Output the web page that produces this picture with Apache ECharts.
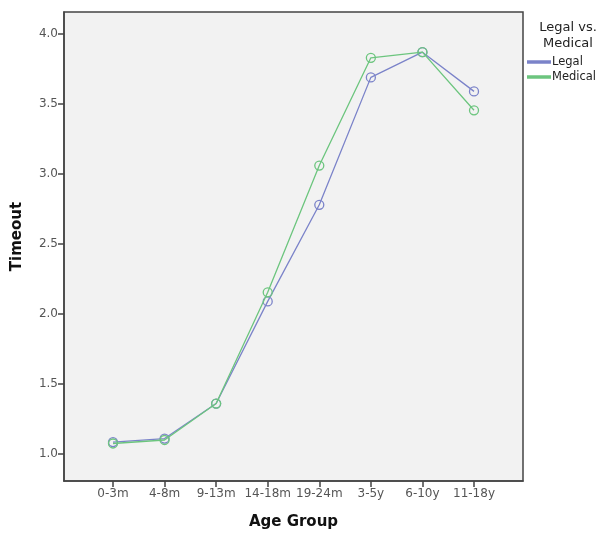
<!DOCTYPE html>
<html><head><meta charset="utf-8">
<script src="https://cdn.jsdelivr.net/npm/echarts@6/dist/echarts.min.js"></script>
<style>html,body{margin:0;padding:0;background:#fff}#c{width:604px;height:541px}</style>
</head><body><div id="c"></div>
<script>
const categories = ['0-3m','4-8m','9-13m','14-18m','19-24m','3-5y','6-10y','11-18y'];
const legalValues = [1.085, 1.11, 1.36, 2.09, 2.78, 3.69, 3.87, 3.59];
const medicalValues = [1.075, 1.10, 1.36, 2.155, 3.06, 3.83, 3.87, 3.455];
const yTicks = [1.0, 1.5, 2.0, 2.5, 3.0, 3.5, 4.0];

const chart = echarts.init(document.getElementById('c'));
const idx = categories.map((_, i) => i);
const toPts = arr => arr.map((v, i) => [i, v]);
const font = 'DejaVu Sans';
chart.setOption({
  animation: false,
  backgroundColor: '#ffffff',
  title: {
    text: 'Legal vs.\nMedical', left: 563, top: 15, textAlign: 'center',
    textStyle: {fontFamily: font, fontSize: 13, fontWeight: 'normal', color: '#222', lineHeight: 16}
  },
  legend: {
    orient: 'vertical', left: 527, top: 56, itemWidth: 22, itemHeight: 1.5, itemGap: 3, padding: 0,
    icon: 'rect',
    textStyle: {fontFamily: font, fontSize: 11.5, color: '#222', padding: [0,0,0,-3]},
    data: ['Legal', 'Medical']
  },
  grid: {left: 64, top: 12, width: 459, height: 469, show: true, backgroundColor: '#f2f2f2', borderColor: '#444', borderWidth: 1.5},
  xAxis: {
    type: 'value', min: -0.95, max: 7.95,
    name: 'Age Group', nameLocation: 'middle', nameGap: 34,
    nameTextStyle: {fontFamily: font, fontSize: 15, fontWeight: 'bold', color: '#111'},
    axisLine: {show: true, onZero: false, lineStyle: {color: '#444', width: 1.5}},
    axisTick: {show: true, length: 6, customValues: idx, lineStyle: {color: '#444', width: 1.5}},
    axisLabel: {customValues: idx, formatter: v => categories[Math.round(v)], fontFamily: font, fontSize: 12, color: '#555', margin: 7},
    splitLine: {show: false}
  },
  yAxis: {
    type: 'value', min: 0.807, max: 4.157,
    name: 'Timeout', nameLocation: 'middle', nameGap: 39, nameRotate: 90,
    nameTextStyle: {fontFamily: font, fontSize: 15, fontWeight: 'bold', color: '#111', padding: [0,0,0,20]},
    axisLine: {show: true, onZero: false, lineStyle: {color: '#444', width: 1.5}},
    axisTick: {show: true, length: 6, customValues: yTicks, lineStyle: {color: '#444', width: 1.5}},
    axisLabel: {customValues: yTicks, formatter: v => v.toFixed(1), fontFamily: font, fontSize: 12, color: '#555', margin: 6},
    splitLine: {show: false}
  },
  series: [
    {name: 'Legal', type: 'line', data: toPts(legalValues), symbol: 'circle', symbolSize: 9,
     lineStyle: {color: '#7b83c9', width: 1.3},
     itemStyle: {color: 'rgba(0,0,0,0)', borderColor: '#7b83c9', borderWidth: 1.3}, z: 2},
    {name: 'Medical', type: 'line', data: toPts(medicalValues), symbol: 'circle', symbolSize: 9,
     lineStyle: {color: '#6cc57e', width: 1.3},
     itemStyle: {color: 'rgba(0,0,0,0)', borderColor: '#6cc57e', borderWidth: 1.3}, z: 3}
  ]
});
</script></body></html>
